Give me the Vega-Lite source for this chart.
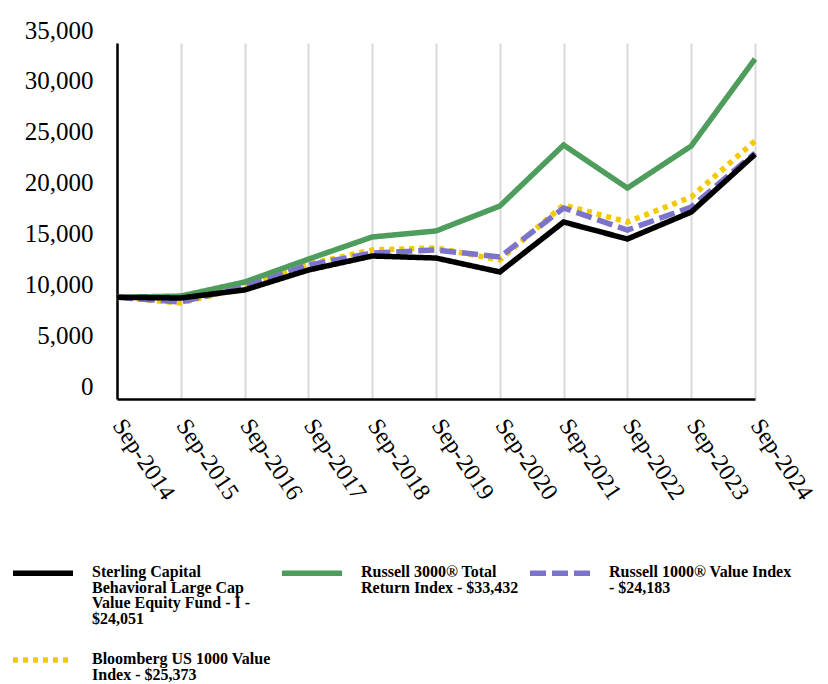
{
  "$schema": "https://vega.github.io/schema/vega-lite/v6.json",
  "width": 638,
  "height": 356,
  "autosize": {"type": "none"},
  "padding": {"left": 117, "top": 43, "right": 73, "bottom": 285},
  "background": "white",
  "config": {
    "view": {"stroke": null},
    "font": "Liberation Serif"
  },
  "data": {
    "values": [
      {"date": "Sep-2014", "series": "Bloomberg US 1000 Value Index - $25,373", "value": 10000},
      {"date": "Sep-2015", "series": "Bloomberg US 1000 Value Index - $25,373", "value": 9440},
      {"date": "Sep-2016", "series": "Bloomberg US 1000 Value Index - $25,373", "value": 11010},
      {"date": "Sep-2017", "series": "Bloomberg US 1000 Value Index - $25,373", "value": 13250},
      {"date": "Sep-2018", "series": "Bloomberg US 1000 Value Index - $25,373", "value": 14650},
      {"date": "Sep-2019", "series": "Bloomberg US 1000 Value Index - $25,373", "value": 14850},
      {"date": "Sep-2020", "series": "Bloomberg US 1000 Value Index - $25,373", "value": 13670},
      {"date": "Sep-2021", "series": "Bloomberg US 1000 Value Index - $25,373", "value": 19070},
      {"date": "Sep-2022", "series": "Bloomberg US 1000 Value Index - $25,373", "value": 17400},
      {"date": "Sep-2023", "series": "Bloomberg US 1000 Value Index - $25,373", "value": 19860},
      {"date": "Sep-2024", "series": "Bloomberg US 1000 Value Index - $25,373", "value": 25373},
      {"date": "Sep-2014", "series": "Russell 3000 Total Return Index - $33,432", "value": 10000},
      {"date": "Sep-2015", "series": "Russell 3000 Total Return Index - $33,432", "value": 10120},
      {"date": "Sep-2016", "series": "Russell 3000 Total Return Index - $33,432", "value": 11500},
      {"date": "Sep-2017", "series": "Russell 3000 Total Return Index - $33,432", "value": 13750},
      {"date": "Sep-2018", "series": "Russell 3000 Total Return Index - $33,432", "value": 15930},
      {"date": "Sep-2019", "series": "Russell 3000 Total Return Index - $33,432", "value": 16520},
      {"date": "Sep-2020", "series": "Russell 3000 Total Return Index - $33,432", "value": 18970},
      {"date": "Sep-2021", "series": "Russell 3000 Total Return Index - $33,432", "value": 24970},
      {"date": "Sep-2022", "series": "Russell 3000 Total Return Index - $33,432", "value": 20740},
      {"date": "Sep-2023", "series": "Russell 3000 Total Return Index - $33,432", "value": 24870},
      {"date": "Sep-2024", "series": "Russell 3000 Total Return Index - $33,432", "value": 33432},
      {"date": "Sep-2014", "series": "Russell 1000 Value Index - $24,183", "value": 10000},
      {"date": "Sep-2015", "series": "Russell 1000 Value Index - $24,183", "value": 9540},
      {"date": "Sep-2016", "series": "Russell 1000 Value Index - $24,183", "value": 11010},
      {"date": "Sep-2017", "series": "Russell 1000 Value Index - $24,183", "value": 13170},
      {"date": "Sep-2018", "series": "Russell 1000 Value Index - $24,183", "value": 14350},
      {"date": "Sep-2019", "series": "Russell 1000 Value Index - $24,183", "value": 14650},
      {"date": "Sep-2020", "series": "Russell 1000 Value Index - $24,183", "value": 13960},
      {"date": "Sep-2021", "series": "Russell 1000 Value Index - $24,183", "value": 18780},
      {"date": "Sep-2022", "series": "Russell 1000 Value Index - $24,183", "value": 16610},
      {"date": "Sep-2023", "series": "Russell 1000 Value Index - $24,183", "value": 18880},
      {"date": "Sep-2024", "series": "Russell 1000 Value Index - $24,183", "value": 24183},
      {"date": "Sep-2014", "series": "Sterling Capital Behavioral Large Cap Value Equity Fund - I - $24,051", "value": 10000},
      {"date": "Sep-2015", "series": "Sterling Capital Behavioral Large Cap Value Equity Fund - I - $24,051", "value": 9930},
      {"date": "Sep-2016", "series": "Sterling Capital Behavioral Large Cap Value Equity Fund - I - $24,051", "value": 10720},
      {"date": "Sep-2017", "series": "Sterling Capital Behavioral Large Cap Value Equity Fund - I - $24,051", "value": 12680},
      {"date": "Sep-2018", "series": "Sterling Capital Behavioral Large Cap Value Equity Fund - I - $24,051", "value": 14060},
      {"date": "Sep-2019", "series": "Sterling Capital Behavioral Large Cap Value Equity Fund - I - $24,051", "value": 13860},
      {"date": "Sep-2020", "series": "Sterling Capital Behavioral Large Cap Value Equity Fund - I - $24,051", "value": 12490},
      {"date": "Sep-2021", "series": "Sterling Capital Behavioral Large Cap Value Equity Fund - I - $24,051", "value": 17400},
      {"date": "Sep-2022", "series": "Sterling Capital Behavioral Large Cap Value Equity Fund - I - $24,051", "value": 15730},
      {"date": "Sep-2023", "series": "Sterling Capital Behavioral Large Cap Value Equity Fund - I - $24,051", "value": 18380},
      {"date": "Sep-2024", "series": "Sterling Capital Behavioral Large Cap Value Equity Fund - I - $24,051", "value": 24051}
    ]
  },
  "mark": {"type": "line", "strokeWidth": 5.5, "strokeCap": "butt", "strokeJoin": "miter"},
  "encoding": {
    "x": {
      "field": "date",
      "type": "ordinal",
      "sort": null,
      "scale": {"type": "point", "padding": 0},
      "axis": {
        "title": null,
        "domainColor": "#000000",
        "domainWidth": 2.5,
        "ticks": false,
        "grid": true,
        "gridColor": "#D9D9D9",
        "gridWidth": 2,
        "labelAngle": 56,
        "labelAlign": "left",
        "labelBaseline": "middle",
        "labelPadding": 22,
        "labelFont": "Liberation Serif",
        "labelFontSize": 24,
        "labelColor": "#000000",
        "labelOverlap": false
      }
    },
    "y": {
      "field": "value",
      "type": "quantitative",
      "scale": {"domain": [0, 35000], "nice": false},
      "axis": {
        "title": null,
        "values": [0, 5000, 10000, 15000, 20000, 25000, 30000, 35000],
        "format": ",.0f",
        "domainColor": "#000000",
        "domainWidth": 2.5,
        "ticks": false,
        "grid": false,
        "labelPadding": 24,
        "labelOffset": -13,
        "labelFont": "Liberation Serif",
        "labelFontSize": 25,
        "labelColor": "#000000"
      }
    },
    "color": {
      "field": "series",
      "type": "nominal",
      "scale": {
        "domain": [
          "Sterling Capital Behavioral Large Cap Value Equity Fund - I - $24,051",
          "Russell 3000 Total Return Index - $33,432",
          "Russell 1000 Value Index - $24,183",
          "Bloomberg US 1000 Value Index - $25,373"
        ],
        "range": ["#000000", "#4E9D5C", "#7C74CB", "#F2CA00"]
      },
      "legend": {
        "title": null,
        "orient": "none",
        "legendX": -107,
        "legendY": 497,
        "direction": "horizontal",
        "columns": 3,
        "columnPadding": 0,
        "rowPadding": 0,
        "symbolType": "stroke",
        "symbolSize": 3600,
        "symbolStrokeWidth": 5.5,
        "labelOffset": 16,
        "labelFont": "Liberation Serif",
        "labelFontSize": 16,
        "labelFontWeight": "bold",
        "labelColor": "#000000",
        "labelLimit": 300,
        "labelBaseline": "top",
        "labelExpr": "indexof(datum.value, 'Sterling') == 0 ? ['Sterling Capital', 'Behavioral Large Cap', 'Value Equity Fund - I -', '$24,051'] : indexof(datum.value, 'Russell 3000') == 0 ? ['Russell 3000® Total', 'Return Index - $33,432', '', ''] : indexof(datum.value, 'Russell 1000') == 0 ? ['Russell 1000® Value Index', '- $24,183', '', ''] : ['Bloomberg US 1000 Value', 'Index - $25,373']",
        "encode": {
          "labels": {
            "update": {
              "dy": {"value": -9},
              "lineHeight": {"value": 15.5}
            }
          }
        }
      }
    },
    "strokeDash": {
      "field": "series",
      "type": "nominal",
      "scale": {
        "domain": [
          "Sterling Capital Behavioral Large Cap Value Equity Fund - I - $24,051",
          "Russell 3000 Total Return Index - $33,432",
          "Russell 1000 Value Index - $24,183",
          "Bloomberg US 1000 Value Index - $25,373"
        ],
        "range": [[1, 0], [1, 0], [16, 6], [5, 5]]
      },
      "legend": null
    }
  }
}
